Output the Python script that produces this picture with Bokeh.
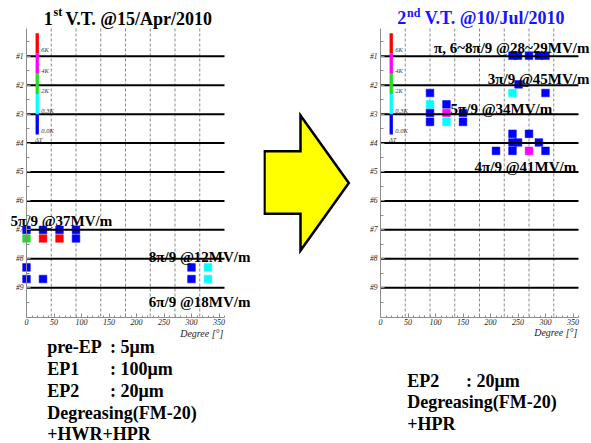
from bokeh.plotting import figure
from bokeh.models import Range1d, FixedTicker, Label, ColumnDataSource, LinearAxis
from bokeh.layouts import row
from bokeh.embed import file_html
from bokeh.resources import INLINE

# ---------------- data ----------------
CELL_TICKS = [1, 2, 3, 4, 5, 6, 7, 8, 9]
CELL_LABELS = ["#1", "#2", "#3", "#4", "#5", "#6", "#7", "#8", "#9"]
DEGREE_TICKS = [0, 50, 100, 150, 200, 250, 300, 350]
DEGREE_GRID = [45, 90, 135, 180, 225, 270, 315]
DT_LABELS = ["0.0K", "0.3K", "2K", "4K", "6K"]
DT_COLORS = ["#0000ff", "#00ffff", "#22dd22", "#ff00ff", "#ff0000"]

# 1st vertical test: sensor angle [deg], position (cell units), dT level
VT1_DEG = [0, 30, 60, 90, 0, 30, 60, 90, 0, 0, 30, 300, 300, 330, 330]
VT1_POS = [7.0, 7.0, 7.0, 7.0, 7.3, 7.3, 7.3, 7.3, 8.3, 8.7, 8.7, 8.3, 8.7, 8.3, 8.7]
VT1_LEVEL = [0, 0, 0, 0, 2, 4, 4, 0, 0, 0, 0, 0, 0, 1, 1]

# 2nd vertical test
VT2_DEG = [240, 250, 270, 288, 300, 251, 90, 240, 300, 90, 120, 90, 120, 150,
           90, 120, 150, 240, 270, 240, 250, 288, 210, 240, 270, 300]
VT2_POS = [0.98, 0.98, 0.98, 0.98, 0.98, 1.97, 2.27, 2.27, 2.27, 2.66, 2.66, 2.96, 2.96, 2.96,
           3.27, 3.27, 3.27, 3.68, 3.68, 3.98, 3.98, 3.98, 4.27, 4.27, 4.27, 4.27]
VT2_LEVEL = [0, 0, 0, 0, 0, 0, 0, 1, 0, 1, 0, 0, 3, 0,
             0, 1, 0, 0, 0, 0, 0, 0, 0, 0, 3, 0]

VT1_TITLE = ("1", "st", "V.T. @15/Apr/2010")
VT2_TITLE = ("2", "nd", "V.T. @10/Jul/2010")
VT1_NOTES = ["5π/9 @37MV/m", "8π/9 @12MV/m", "6π/9 @18MV/m"]
VT2_NOTES = ["π, 6~8π/9 @28~29MV/m", "3π/9 @45MV/m", "5π/9 @34MV/m", "4π/9 @41MV/m"]
VT1_PROCESS = [("pre-EP", ": 5μm"), ("EP1", ": 100μm"), ("EP2", ": 20μm"),
               ("Degreasing(FM-20)", ""), ("+HWR+HPR", "")]
VT2_PROCESS = [("EP2", ": 20μm"), ("Degreasing(FM-20)", ""), ("+HPR", "")]
X_LABEL = "Degree [°]"

# arrow shape (page pixels)
ARROW_X = [264, 300, 300, 348.3, 300, 300, 264]
ARROW_Y = [150.7, 150.7, 115, 182.5, 250, 213.3, 213.3]

# ---------------- layout ----------------
SERIF = "Liberation Serif"
H = 443
PAGE_TOP, PAGE_BOTTOM = 0, H
FRAME_TOP, FRAME_BOTTOM = 28, 317
FRAME_W = 198.0
Y0, Y1 = 0.04, 10.03
DPX = 360.0 / FRAME_W
DPY = (Y1 - Y0) / (FRAME_BOTTOM - FRAME_TOP)


def make_panel(fig_left, width, frame_left):
    """Figure whose frame fills the whole canvas; data box 0..360 x Y0..Y1 is placed
    at page pixels frame_left..frame_left+198, FRAME_TOP..FRAME_BOTTOM."""
    fig_right = fig_left + width
    xr = Range1d((fig_left - frame_left) * DPX, 360 + (fig_right - frame_left - FRAME_W) * DPX)
    yr = Range1d(Y1 + (PAGE_BOTTOM - FRAME_BOTTOM) * DPY, Y0 - (FRAME_TOP - PAGE_TOP) * DPY)
    p = figure(width=width, height=H, x_range=xr, y_range=yr,
               output_backend="svg", toolbar_location=None,
               x_axis_location=None, y_axis_location=None,
               min_border_left=0, min_border_right=0, min_border_top=0, min_border_bottom=0)
    p.outline_line_color = None
    p.grid.visible = False

    xa = LinearAxis(fixed_location=Y1, bounds=(0, 360))
    xa.ticker = FixedTicker(ticks=DEGREE_TICKS, minor_ticks=list(range(0, 361, 10)))
    xa.axis_line_color = "#8c8c8c"
    xa.major_tick_line_color = "#8c8c8c"
    xa.minor_tick_line_color = "#8c8c8c"
    xa.major_tick_in, xa.major_tick_out = 4, 0
    xa.minor_tick_in, xa.minor_tick_out = 2, 0
    xa.major_label_standoff = 1
    xa.major_label_text_font = SERIF
    xa.major_label_text_font_style = "italic"
    xa.major_label_text_font_size = "8px"
    xa.major_label_text_color = "#222222"
    p.add_layout(xa, "below")

    ya = LinearAxis(fixed_location=0, bounds=(Y0, Y1))
    ya.ticker = FixedTicker(ticks=CELL_TICKS, minor_ticks=[k + 0.5 for k in range(0, 10)])
    ya.major_label_overrides = {k: lab for k, lab in zip(CELL_TICKS, CELL_LABELS)}
    ya.axis_line_color = "#8c8c8c"
    ya.major_tick_line_color = "#8c8c8c"
    ya.minor_tick_line_color = "#8c8c8c"
    ya.major_tick_in, ya.major_tick_out = 4, 0
    ya.minor_tick_in, ya.minor_tick_out = 3, 0
    ya.major_label_standoff = 3
    ya.major_label_text_font = SERIF
    ya.major_label_text_font_style = "italic"
    ya.major_label_text_font_size = "7.5px"
    ya.major_label_text_color = "#222222"
    p.add_layout(ya, "left")

    # dashed angular grid restricted to the data box
    p.segment(x0=DEGREE_GRID, x1=DEGREE_GRID, y0=Y0, y1=Y1,
              line_color="#8a8a8a", line_dash="3 2", line_width=1)

    def px(x):
        return (x - frame_left) * DPX

    def py(y):
        return Y0 + (y - FRAME_TOP) * DPY

    return p, px, py


def cell_lines(p):
    p.segment(x0=0, x1=360, y0=CELL_TICKS, y1=CELL_TICKS, line_color="black", line_width=2)


def text(p, x, y, s, size, style="bold", align="left", baseline="alphabetic", color="black"):
    p.add_layout(Label(x=x, y=y, text=s, text_font=SERIF, text_font_size=size,
                       text_font_style=style, text_align=align, text_baseline=baseline,
                       text_color=color))


def dt_scale(p):
    n = len(DT_COLORS)
    top, seg = 0.2, 0.7
    bottoms = [top + seg * (n - i) for i in range(n)]
    centers = [b - seg / 2 for b in bottoms]
    p.rect(x=19.5, y=centers, width=6, height=seg, fill_color=DT_COLORS, line_color=None)
    for lab, b in zip(DT_LABELS, bottoms):
        p.add_layout(Label(x=27, y=b, text=lab, text_font=SERIF,
                           text_font_size="6.5px", text_font_style="italic",
                           text_baseline="bottom", text_color="#333333"))
    p.add_layout(Label(x=15.5, y=3.74, text="ΔT", text_font=SERIF,
                       text_font_size="6.5px", text_font_style="italic",
                       text_baseline="top", text_color="#333333"))


def squares(p, deg, pos, level):
    src = ColumnDataSource(dict(deg=deg, pos=pos, color=[DT_COLORS[k] for k in level]))
    p.rect(x="deg", y="pos", width=14, height=0.265, source=src,
           fill_color="color", line_color="color", line_width=0.5)


# ---- left panel ----
figL, lx, ly = make_panel(0, 263, 26)
squares(figL, VT1_DEG, VT1_POS, VT1_LEVEL)
cell_lines(figL)
dt_scale(figL)
text(figL, lx(43.3), ly(18.3), VT1_TITLE[0], "18px")
text(figL, lx(53.0), ly(11.7), VT1_TITLE[1], "12px")
text(figL, lx(65.0), ly(18.3), VT1_TITLE[2], "18px")
text(figL, lx(10), ly(220), VT1_NOTES[0], "15px")
text(figL, lx(250), ly(256), VT1_NOTES[1], "15px", align="right")
text(figL, lx(250), ly(301.5), VT1_NOTES[2], "15px", align="right")
text(figL, lx(223), ly(333), X_LABEL, "10px", style="italic", align="right",
     baseline="middle", color="#222222")
for (a, b), yb in zip(VT1_PROCESS, [346.5, 368.5, 390.5, 412, 433.5]):
    text(figL, lx(46.7), ly(yb), a, "18px")
    if b:
        text(figL, lx(109.5), ly(yb), b, "18px")

# ---- middle: arrow ----
figM = figure(width=95, height=H, x_range=Range1d(263, 358), y_range=Range1d(PAGE_BOTTOM, PAGE_TOP),
              output_backend="svg", toolbar_location=None,
              x_axis_location=None, y_axis_location=None,
              min_border_left=0, min_border_right=0, min_border_top=0, min_border_bottom=0)
figM.grid.visible = False
figM.outline_line_color = None
figM.patch(ARROW_X, ARROW_Y, fill_color="#ffff00", line_color="black", line_width=2.5,
           line_join="miter")

# ---- right panel ----
figR, rx, ry = make_panel(358, 233, 380)
squares(figR, VT2_DEG, VT2_POS, VT2_LEVEL)
cell_lines(figR)
dt_scale(figR)
BLUE = "#1414ff"
text(figR, rx(396.7), ry(17.3), VT2_TITLE[0], "18px", color=BLUE)
text(figR, rx(406.5), ry(12.3), VT2_TITLE[1], "12px", color=BLUE)
text(figR, rx(424.3), ry(17.3), VT2_TITLE[2], "18px", color=BLUE)
text(figR, rx(589), ry(47.3), VT2_NOTES[0], "15px", align="right")
text(figR, rx(589), ry(78.3), VT2_NOTES[1], "15px", align="right")
text(figR, rx(450), ry(108.3), VT2_NOTES[2], "15px")
text(figR, rx(474), ry(166), VT2_NOTES[3], "15px")
text(figR, rx(577), ry(331.7), X_LABEL, "10px", style="italic", align="right",
     baseline="middle", color="#222222")
for (a, b), yb in zip(VT2_PROCESS, [380, 401.7, 423]):
    text(figR, rx(406.7), ry(yb), a, "18px")
    if b:
        text(figR, rx(465.5), ry(yb), b, "18px")

layout = row(figL, figM, figR)
open("out.html", "w").write(file_html(layout, INLINE))
